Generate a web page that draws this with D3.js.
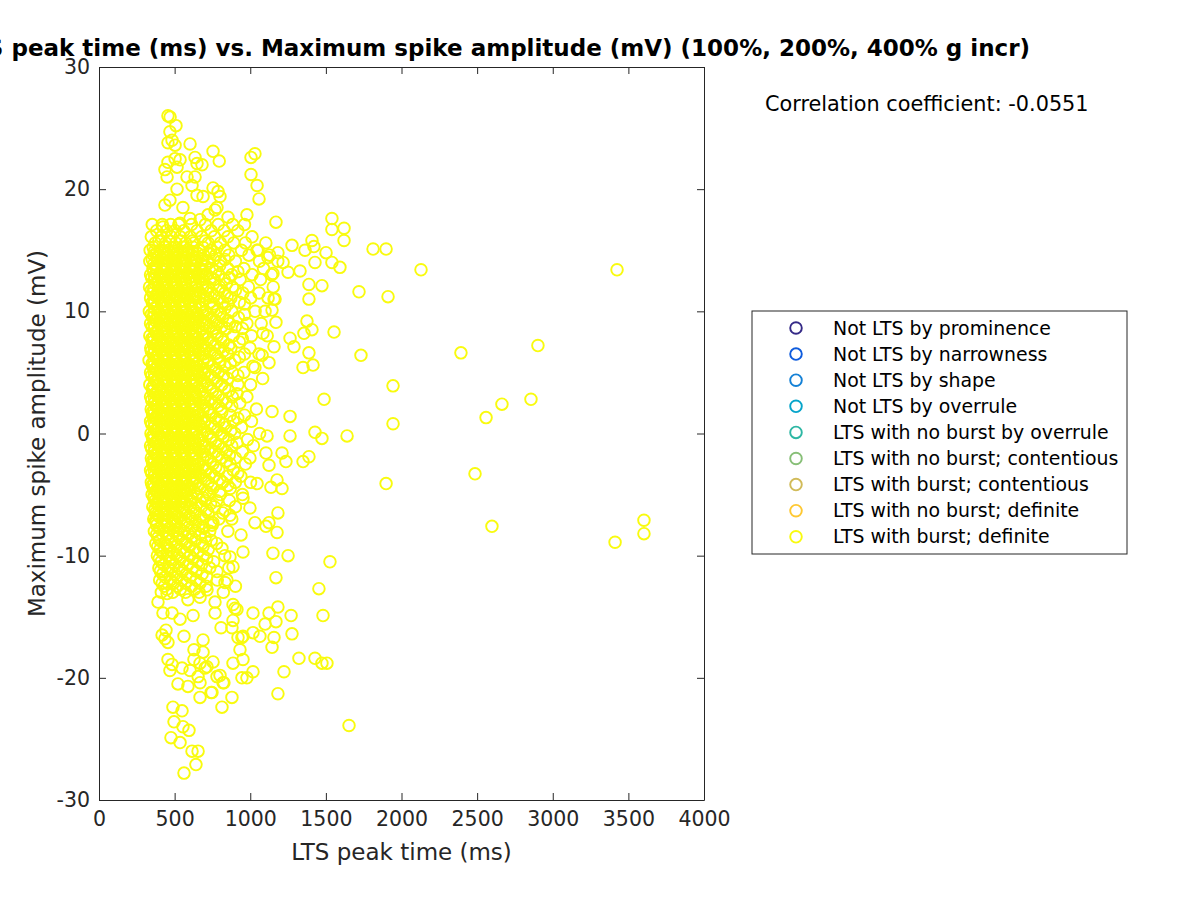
<!DOCTYPE html>
<html>
<head>
<meta charset="utf-8">
<script src="https://cdn.jsdelivr.net/npm/d3@7"></script>
<style>
body { margin: 0; background: #fff; }
text { font-family: "DejaVu Sans", sans-serif; fill: #262626; }
</style>
</head>
<body>
<svg id="chart"></svg>
<script>
// legend categories and colours (parula)
const categories = [
	"Not LTS by prominence", "Not LTS by narrowness", "Not LTS by shape",
	"Not LTS by overrule", "LTS with no burst by overrule", "LTS with no burst; contentious",
	"LTS with burst; contentious", "LTS with no burst; definite", "LTS with burst; definite"
];
const catColors = ["#352a87", "#0f5cdd", "#1481d6", "#06a4ca", "#2eb7a4", "#87bf77", "#d1bb59", "#fec832", "#f9fb0e"];

const xTicks = [0, 500, 1000, 1500, 2000, 2500, 3000, 3500, 4000];
const yTicks = [-30, -20, -10, 0, 10, 20, 30];
const corrText = "Correlation coefficient: -0.0551";

// dense core, rows of [amplitude (mV), [peak times (ms)]]
const coreRows = [
	[17.1, [352, 418, 474, 528, 612, 703, 788, 884, 962]],
	[16.6, [381, 447, 503, 561, 648, 742, 827, 918]],
	[16.1, [346, 412, 478, 537, 604, 679, 763, 852, 1012]],
	[15.6, [372, 441, 508, 573, 628, 722, 803, 891, 968, 1103]],
	[15.0, [338, 402, 461, 522, 588, 661, 738, 832, 942, 1052]],
	[14.6, [362, 423, 488, 553, 613, 692, 772, 858, 991, 1128]],
	[14.1, [336, 391, 452, 509, 572, 641, 718, 803, 902, 1061, 1182]],
	[13.5, [357, 418, 483, 538, 601, 672, 748, 852, 958, 1088]],
	[13.0, [341, 402, 458, 521, 582, 651, 712, 792, 878, 1012, 1141]],
	[12.6, [366, 428, 492, 548, 618, 688, 762, 828, 933, 1068]],
	[12.0, [334, 392, 449, 512, 571, 638, 721, 798, 882, 988, 1152]],
	[11.5, [356, 421, 478, 542, 598, 671, 748, 832, 951, 1058]],
	[11.1, [341, 398, 462, 518, 582, 642, 708, 791, 872, 1003, 1118]],
	[10.6, [361, 427, 488, 551, 608, 681, 758, 852, 962]],
	[10.0, [333, 391, 452, 508, 572, 628, 702, 781, 878, 1032, 1098]],
	[9.5, [356, 418, 482, 538, 602, 658, 742, 818, 922]],
	[9.0, [341, 401, 458, 522, 578, 641, 712, 788, 862, 978, 1072]],
	[8.6, [364, 432, 491, 548, 611, 682, 758, 842, 948]],
	[8.0, [336, 388, 451, 512, 568, 632, 698, 782, 888, 1008, 1112]],
	[7.5, [354, 421, 478, 541, 602, 661, 738, 822, 928]],
	[7.0, [342, 398, 461, 518, 582, 638, 712, 798, 872, 998]],
	[6.5, [358, 431, 488, 552, 608, 691, 768, 851, 962, 1058]],
	[6.0, [331, 392, 448, 511, 571, 628, 722, 801, 898]],
	[5.5, [356, 418, 482, 538, 602, 662, 748, 831, 1018]],
	[5.0, [341, 402, 458, 522, 578, 651, 702, 788, 882, 958]],
	[4.5, [364, 428, 491, 548, 612, 678, 762, 852, 1082]],
	[4.0, [336, 391, 452, 508, 572, 631, 718, 812, 918, 1002]],
	[3.5, [354, 422, 478, 542, 598, 672, 751, 858]],
	[3.0, [341, 398, 462, 518, 581, 642, 702, 788, 882, 978]],
	[2.5, [366, 431, 488, 552, 608, 681, 768, 842, 931]],
	[2.0, [345, 392, 451, 512, 568, 632, 722, 808, 1041]],
	[1.5, [356, 418, 482, 538, 602, 658, 742, 868, 962]],
	[1.0, [341, 402, 458, 521, 578, 641, 698, 792, 888, 1008]],
	[0.5, [363, 428, 492, 548, 612, 678, 762, 838, 942]],
	[0.0, [344, 391, 452, 508, 572, 628, 718, 812, 898, 1062]],
	[-0.5, [356, 421, 478, 542, 598, 662, 742, 858, 982]],
	[-1.0, [341, 398, 462, 518, 582, 638, 702, 788, 878, 1021]],
	[-1.5, [364, 432, 488, 551, 608, 682, 768, 842, 948]],
	[-2.0, [346, 391, 452, 511, 568, 632, 718, 812, 902, 998]],
	[-2.5, [356, 418, 482, 538, 602, 658, 752, 868, 968]],
	[-3.0, [341, 402, 458, 522, 578, 642, 708, 792, 888]],
	[-3.5, [366, 428, 491, 548, 612, 678, 762, 848, 938]],
	[-4.0, [346, 392, 448, 512, 571, 641, 722, 818, 902, 1002]],
	[-4.5, [361, 421, 478, 541, 602, 668, 752, 868]],
	[-5.0, [351, 402, 462, 518, 582, 648, 728, 802, 948]],
	[-5.5, [371, 431, 488, 552, 608, 702, 778, 862]],
	[-6.0, [356, 411, 472, 528, 602, 678, 762, 902]],
	[-6.5, [376, 442, 498, 572, 638, 722, 818]],
	[-7.0, [362, 421, 482, 538, 612, 688, 792, 878]],
	[-7.5, [381, 452, 508, 582, 658, 748]],
	[-8.0, [366, 428, 492, 561, 638, 732, 852]],
	[-8.5, [391, 461, 528, 612, 702]],
	[-9.0, [376, 438, 502, 578, 682, 778]],
	[-9.5, [402, 468, 542, 628, 722]],
	[-10.0, [386, 452, 518, 602, 688, 832]],
	[-10.5, [411, 482, 558, 652, 758]],
	[-11.0, [396, 458, 532, 618, 732, 858]],
	[-11.5, [421, 502, 578, 682]],
	[-12.0, [401, 472, 548, 642, 782]],
	[-12.5, [432, 518, 612, 708, 902]],
	[-13.0, [412, 488, 572, 662, 822]]
];
// second layer of the core, between the rows above
const coreRowsB = [
	[15.75, [395, 462, 541, 618, 702]],
	[15.25, [358, 431, 496, 552, 622, 688, 781]],
	[14.75, [384, 448, 518, 578, 652, 731]],
	[14.25, [352, 418, 479, 538, 608, 682, 758, 832]],
	[13.75, [378, 442, 502, 568, 631, 702, 798]],
	[13.25, [362, 425, 491, 552, 618, 688, 772, 918]],
	[12.75, [348, 408, 468, 532, 598, 662, 738, 862]],
	[12.25, [372, 432, 489, 551, 611, 681, 758, 842]],
	[11.75, [346, 408, 462, 528, 588, 652, 712, 792, 902]],
	[11.25, [375, 438, 498, 558, 621, 688, 762, 848]],
	[10.75, [352, 412, 472, 532, 598, 662, 732, 818, 928]],
	[10.25, [368, 428, 488, 548, 612, 672, 748, 832]],
	[9.75, [346, 402, 468, 528, 588, 648, 718, 802, 962]],
	[9.25, [372, 438, 498, 558, 618, 688, 768, 852]],
	[8.75, [351, 412, 472, 532, 592, 658, 728, 812, 902]],
	[8.25, [376, 438, 498, 562, 622, 688, 772]],
	[7.75, [348, 408, 468, 528, 588, 652, 722, 808, 948]],
	[7.25, [372, 432, 492, 552, 618, 688, 768, 858]],
	[6.75, [346, 412, 472, 532, 592, 658, 738, 822]],
	[6.25, [374, 438, 498, 558, 622, 702, 782, 928]],
	[5.75, [352, 408, 468, 528, 588, 648, 718, 798, 868]],
	[5.25, [371, 432, 492, 552, 618, 688, 772]],
	[4.75, [348, 412, 472, 532, 592, 662, 738, 822, 918]],
	[4.25, [374, 438, 498, 558, 622, 698, 782]],
	[3.75, [352, 408, 468, 528, 588, 652, 738, 832]],
	[3.25, [371, 432, 492, 552, 618, 688, 772, 912]],
	[2.75, [348, 412, 472, 532, 592, 662, 738, 818]],
	[2.25, [376, 438, 498, 558, 622, 698, 788, 878]],
	[1.75, [352, 408, 468, 528, 588, 652, 732, 812]],
	[1.25, [371, 432, 492, 552, 618, 688, 772, 918]],
	[0.75, [348, 412, 472, 532, 592, 662, 742, 828]],
	[0.25, [374, 438, 498, 558, 622, 698, 782, 872]],
	[-0.25, [352, 408, 468, 528, 588, 652, 738, 822]],
	[-0.75, [371, 432, 492, 552, 618, 688, 772, 912]],
	[-1.25, [348, 412, 472, 532, 592, 662, 738, 818]],
	[-1.75, [374, 438, 498, 558, 622, 702, 788, 862]],
	[-2.25, [352, 408, 468, 528, 588, 652, 738, 842]],
	[-2.75, [371, 432, 492, 552, 618, 688, 772]],
	[-3.25, [348, 412, 472, 532, 592, 662, 738, 918]],
	[-3.75, [374, 438, 498, 558, 622, 702, 798]],
	[-4.25, [352, 408, 468, 528, 588, 658, 742, 852]],
	[-4.75, [378, 438, 498, 562, 628, 712, 798]],
	[-5.25, [362, 421, 482, 541, 612, 688]],
	[-5.75, [382, 448, 508, 572, 648, 738]],
	[-6.25, [368, 428, 492, 558, 628, 712]],
	[-6.75, [392, 458, 522, 598, 672]],
	[-7.25, [378, 438, 502, 568, 642, 742]],
	[-7.75, [398, 468, 532, 612, 692]],
	[-8.25, [382, 448, 518, 592, 668]],
	[-8.75, [402, 478, 552, 638, 742]],
	[-9.25, [388, 452, 512, 598, 688]],
	[-9.75, [418, 488, 568, 652]],
	[-10.25, [398, 468, 538, 622, 712]],
	[-10.75, [428, 502, 588, 678]],
	[-11.25, [406, 478, 552, 642]],
	[-11.75, [438, 518, 602, 712]],
	[-12.25, [418, 492, 572, 668]],
	[-12.75, [448, 538, 632]]
];
// third layer filling the solid part of the core
const coreRowsC = [
	[14.9, [366, 430, 492, 556, 615]],
	[14.4, [382, 444, 506, 566, 632]],
	[13.9, [364, 428, 490, 552, 618, 676]],
	[13.4, [380, 446, 508, 570, 636]],
	[12.9, [366, 432, 494, 556, 622, 680]],
	[12.4, [384, 448, 512, 574, 640]],
	[11.9, [362, 426, 490, 552, 616, 684]],
	[11.4, [382, 446, 506, 568, 634]],
	[10.9, [366, 430, 494, 558, 620, 692]],
	[10.4, [384, 442, 504, 566, 638]],
	[9.9, [364, 428, 490, 554, 616, 688]],
	[9.4, [380, 446, 508, 568, 634]],
	[8.9, [366, 432, 494, 556, 622, 696]],
	[8.4, [384, 448, 512, 574, 640]],
	[7.9, [362, 426, 490, 552, 616, 684]],
	[7.4, [382, 446, 506, 568, 634]],
	[6.9, [366, 430, 494, 558, 620, 692]],
	[6.4, [384, 442, 504, 566, 638]],
	[5.9, [364, 428, 490, 554, 616, 688]],
	[5.4, [380, 446, 508, 568, 634]],
	[4.9, [366, 432, 494, 556, 622, 696]],
	[4.4, [384, 448, 512, 574, 640]],
	[3.9, [362, 426, 490, 552, 616, 684]],
	[3.4, [382, 446, 506, 568, 634]],
	[2.9, [366, 430, 494, 558, 620, 692]],
	[2.4, [384, 442, 504, 566, 638]],
	[1.9, [364, 428, 490, 554, 616, 688]],
	[1.4, [380, 446, 508, 568, 634]],
	[0.9, [366, 432, 494, 556, 622, 696]],
	[0.4, [384, 448, 512, 574, 640]],
	[-0.1, [362, 426, 490, 552, 616, 684]],
	[-0.6, [382, 446, 506, 568, 634]],
	[-1.1, [366, 430, 494, 558, 620, 692]],
	[-1.6, [384, 442, 504, 566, 638]],
	[-2.1, [364, 428, 490, 554, 616, 688]],
	[-2.6, [380, 446, 508, 568, 634]],
	[-3.1, [366, 432, 494, 556, 622]],
	[-3.6, [384, 448, 512, 574, 640]],
	[-4.1, [362, 426, 490, 552, 616]],
	[-4.6, [382, 446, 506, 568]],
	[-5.1, [366, 430, 494, 558]],
	[-5.6, [384, 442, 504, 566]],
	[-6.1, [372, 428, 490, 554]],
	[-6.6, [388, 446, 508]],
	[-7.1, [374, 432, 494]]
];

// scattered points around the core, [peak time (ms), amplitude (mV)]
const upperPoints = [
	[456, 26.0], [470, 25.9], [509, 25.2], [469, 24.7], [483, 24.0], [456, 23.8], [503, 23.6], [602, 23.7],
	[754, 23.1], [795, 22.3], [635, 22.6], [648, 22.1], [503, 22.5], [456, 22.2], [536, 22.4], [436, 21.6],
	[450, 21.0], [516, 21.8], [582, 21.0], [635, 21.0], [615, 20.3], [516, 20.0], [648, 19.5], [688, 19.4],
	[436, 18.7], [469, 19.1], [555, 18.5], [754, 20.1], [787, 19.8], [800, 19.4], [767, 18.3], [721, 17.9],
	[602, 17.6], [536, 17.2], [423, 16.9], [668, 17.5], [853, 17.7], [978, 17.9], [780, 18.5], [681, 22.0],
	[1005, 22.6], [1031, 22.9], [1005, 21.2], [1045, 20.3], [1058, 19.2], [1170, 17.3]
];
const rightPoints = [
	[1540, 17.6], [1540, 16.7], [1620, 16.8], [1620, 15.8], [1812, 15.1], [1898, 15.1], [2129, 13.4], [3425, 13.4],
	[1719, 11.6], [1911, 11.2], [1276, 15.4], [1408, 15.8], [1421, 15.3], [1501, 14.8], [1540, 14.0], [1593, 13.6],
	[1428, 14.0], [1362, 15.0], [1329, 13.3], [1250, 13.2], [1388, 12.2], [1474, 12.1], [1388, 11.0], [1157, 11.0],
	[1170, 9.1], [1375, 9.2], [1408, 8.5], [1355, 8.2], [1263, 7.8], [1289, 7.1], [1388, 6.6], [1554, 8.3],
	[1732, 6.4], [2393, 6.6], [2902, 7.2], [1349, 5.4], [1415, 5.6], [1144, 1.8], [1263, 1.4], [1488, 2.8],
	[1944, 3.9], [1031, 5.4], [1124, 5.8], [1157, 7.1], [1045, 15.0], [1117, 14.4], [1183, 14.8], [1217, 14.0],
	[1150, 13.1], [1164, 11.0], [1144, 10.1], [1084, 8.2], [1078, 6.4], [1111, -0.2], [1263, -0.2], [1428, 0.1],
	[1474, -0.4], [1640, -0.2], [1944, 0.8], [1898, -4.1], [1349, -2.3], [1388, -1.9], [1236, -2.3], [1210, -1.6],
	[1104, -1.6], [1124, -2.6], [1177, -3.8], [1210, -4.5], [1137, -4.4], [1045, -4.1], [1183, -6.5], [1031, -7.3],
	[1104, -7.6], [1177, -8.1], [1124, -7.3], [2664, 2.4], [2856, 2.8], [2559, 1.3], [2486, -3.3], [2598, -7.6],
	[3412, -8.9], [3603, -7.1], [3603, -8.2]
];
const lowerPoints = [
	[1150, -9.8], [1250, -10.0], [1527, -10.5], [1170, -11.8], [1454, -12.7], [1481, -14.9], [1276, -16.4], [1183, -14.2],
	[1270, -14.9], [1018, -14.7], [1124, -14.7], [1170, -15.4], [1098, -15.6], [1018, -16.3], [945, -16.7], [1064, -16.6],
	[1157, -16.7], [1144, -17.5], [1322, -18.4], [1428, -18.4], [1474, -18.8], [1507, -18.8], [1223, -19.5], [1183, -21.3],
	[1653, -23.9], [886, -14.0], [767, -14.7], [807, -15.9], [879, -15.9], [912, -14.4], [952, -16.6], [932, -17.7],
	[886, -18.8], [978, -20.0], [1018, -19.5], [879, -21.6], [813, -22.4], [780, -19.9], [747, -21.2], [820, -20.4],
	[714, -19.1], [939, -8.3], [952, -9.7], [866, -10.1], [813, -9.4], [754, -7.3], [688, -7.6], [866, -6.7],
	[998, -6.1], [952, -5.3], [833, -6.3], [780, -11.3], [886, -10.9], [833, -12.2], [714, -12.8], [919, -16.7],
	[952, -18.5], [945, -20.0], [562, -27.8], [641, -27.1], [615, -26.0], [655, -26.0], [476, -24.9], [536, -25.3],
	[595, -24.3], [555, -24.0], [496, -23.6], [489, -22.4], [549, -22.7], [522, -20.5], [588, -20.7], [668, -21.6],
	[741, -21.2], [668, -20.4], [655, -19.9], [701, -19.2], [602, -19.4], [549, -19.2], [469, -19.4], [456, -18.5],
	[483, -18.9], [628, -18.5], [688, -17.9], [668, -18.8], [754, -18.7], [800, -19.8], [826, -20.4], [436, -16.8],
	[456, -17.1], [417, -16.5], [443, -16.1], [562, -16.6], [688, -16.9], [628, -17.7], [886, -15.3], [899, -14.3],
	[622, -14.9], [536, -15.2], [483, -14.7], [423, -14.7], [390, -13.8], [450, -13.1], [588, -13.6], [668, -13.4],
	[767, -13.8], [846, -12.0]
];

const width = 1200, height = 900;
const margin = { left: 99, top: 67, right: 1200 - 704, bottom: 900 - 800 };

const svg = d3.select("#chart").attr("width", width).attr("height", height);
svg.append("rect").attr("width", width).attr("height", height).attr("fill", "#fff");

const x = d3.scaleLinear([0, 4000], [margin.left, width - margin.right]);
const y = d3.scaleLinear([-30, 30], [height - margin.bottom, margin.top]);

const points = [];
[coreRows, coreRowsB, coreRowsC].forEach(rows =>
	rows.forEach(([amp, times]) => times.forEach(t => points.push([t, amp]))));
points.push(...upperPoints, ...rightPoints, ...lowerPoints);

// axes box (white background)
svg.append("rect")
   .attr("x", x(0)).attr("y", y(30))
   .attr("width", x(4000) - x(0)).attr("height", y(-30) - y(30))
   .attr("fill", "#fff");

// points
svg.append("g")
   .attr("fill", "none")
   .attr("stroke", catColors[8])
   .attr("stroke-width", 1.9)
   .selectAll("circle")
   .data(points)
   .join("circle")
   .attr("cx", d => x(d[0]))
   .attr("cy", d => y(d[1]))
   .attr("r", 5.8);

// axes, ticks pointing inward like matlab
const tick = 7;
const fmt = d => String(d);
const styleAxis = g => {
	g.selectAll(".domain").attr("stroke", "#262626");
	g.selectAll(".tick line").attr("stroke", "#262626");
	g.selectAll(".tick text").style("font-size", "20.5px").attr("fill", "#262626");
};
svg.append("g")
   .attr("transform", `translate(0,${y(-30)})`)
   .call(d3.axisBottom(x).tickValues(xTicks).tickFormat(fmt).tickSizeInner(-tick).tickSizeOuter(0).tickPadding(11))
   .call(styleAxis);
svg.append("g")
   .attr("transform", `translate(0,${y(30)})`)
   .call(d3.axisTop(x).tickValues(xTicks).tickSizeInner(-tick).tickSizeOuter(0).tickFormat(""))
   .call(styleAxis);
svg.append("g")
   .attr("transform", `translate(${x(0)},0)`)
   .call(d3.axisLeft(y).tickValues(yTicks).tickFormat(fmt).tickSizeInner(-tick).tickSizeOuter(0).tickPadding(9))
   .call(styleAxis);
svg.append("g")
   .attr("transform", `translate(${x(4000)},0)`)
   .call(d3.axisRight(y).tickValues(yTicks).tickSizeInner(-tick).tickSizeOuter(0).tickFormat(""))
   .call(styleAxis);

// labels
const cx = (x(0) + x(4000)) / 2;
svg.append("text")
   .attr("x", cx).attr("y", 860)
   .attr("text-anchor", "middle")
   .style("font-size", "23px")
   .text("LTS peak time (ms)");
svg.append("text")
   .attr("transform", `translate(45,${(y(30) + y(-30)) / 2}) rotate(-90)`)
   .attr("text-anchor", "middle")
   .style("font-size", "23px")
   .text("Maximum spike amplitude (mV)");
svg.append("text")
   .attr("x", 1030).attr("y", 56)
   .attr("text-anchor", "end")
   .style("font-size", "23px")
   .style("font-weight", "bold")
   .style("fill", "#000")
   .text("LTS peak time (ms) vs. Maximum spike amplitude (mV) (100%, 200%, 400% g incr)");
svg.append("text")
   .attr("x", 765).attr("y", 111)
   .style("font-size", "20.8px")
   .style("fill", "#000")
   .text(corrText);

// legend
const lg = svg.append("g").attr("transform", "translate(752,311)");
lg.append("rect")
  .attr("width", 375).attr("height", 243)
  .attr("fill", "#fff").attr("stroke", "#262626").attr("stroke-width", 1);
const item = lg.selectAll("g.item")
  .data(categories)
  .join("g")
  .attr("class", "item")
  .attr("transform", (d, i) => `translate(0,${17 + i * 26.1})`);
item.append("circle")
  .attr("cx", 44).attr("r", 5.8)
  .attr("fill", "none").attr("stroke-width", 1.9)
  .attr("stroke", (d, i) => catColors[i]);
item.append("text")
  .attr("x", 81).attr("dy", "0.35em")
  .style("font-size", "18.9px")
  .style("fill", "#000")
  .text(d => d);
</script>
</body>
</html>
